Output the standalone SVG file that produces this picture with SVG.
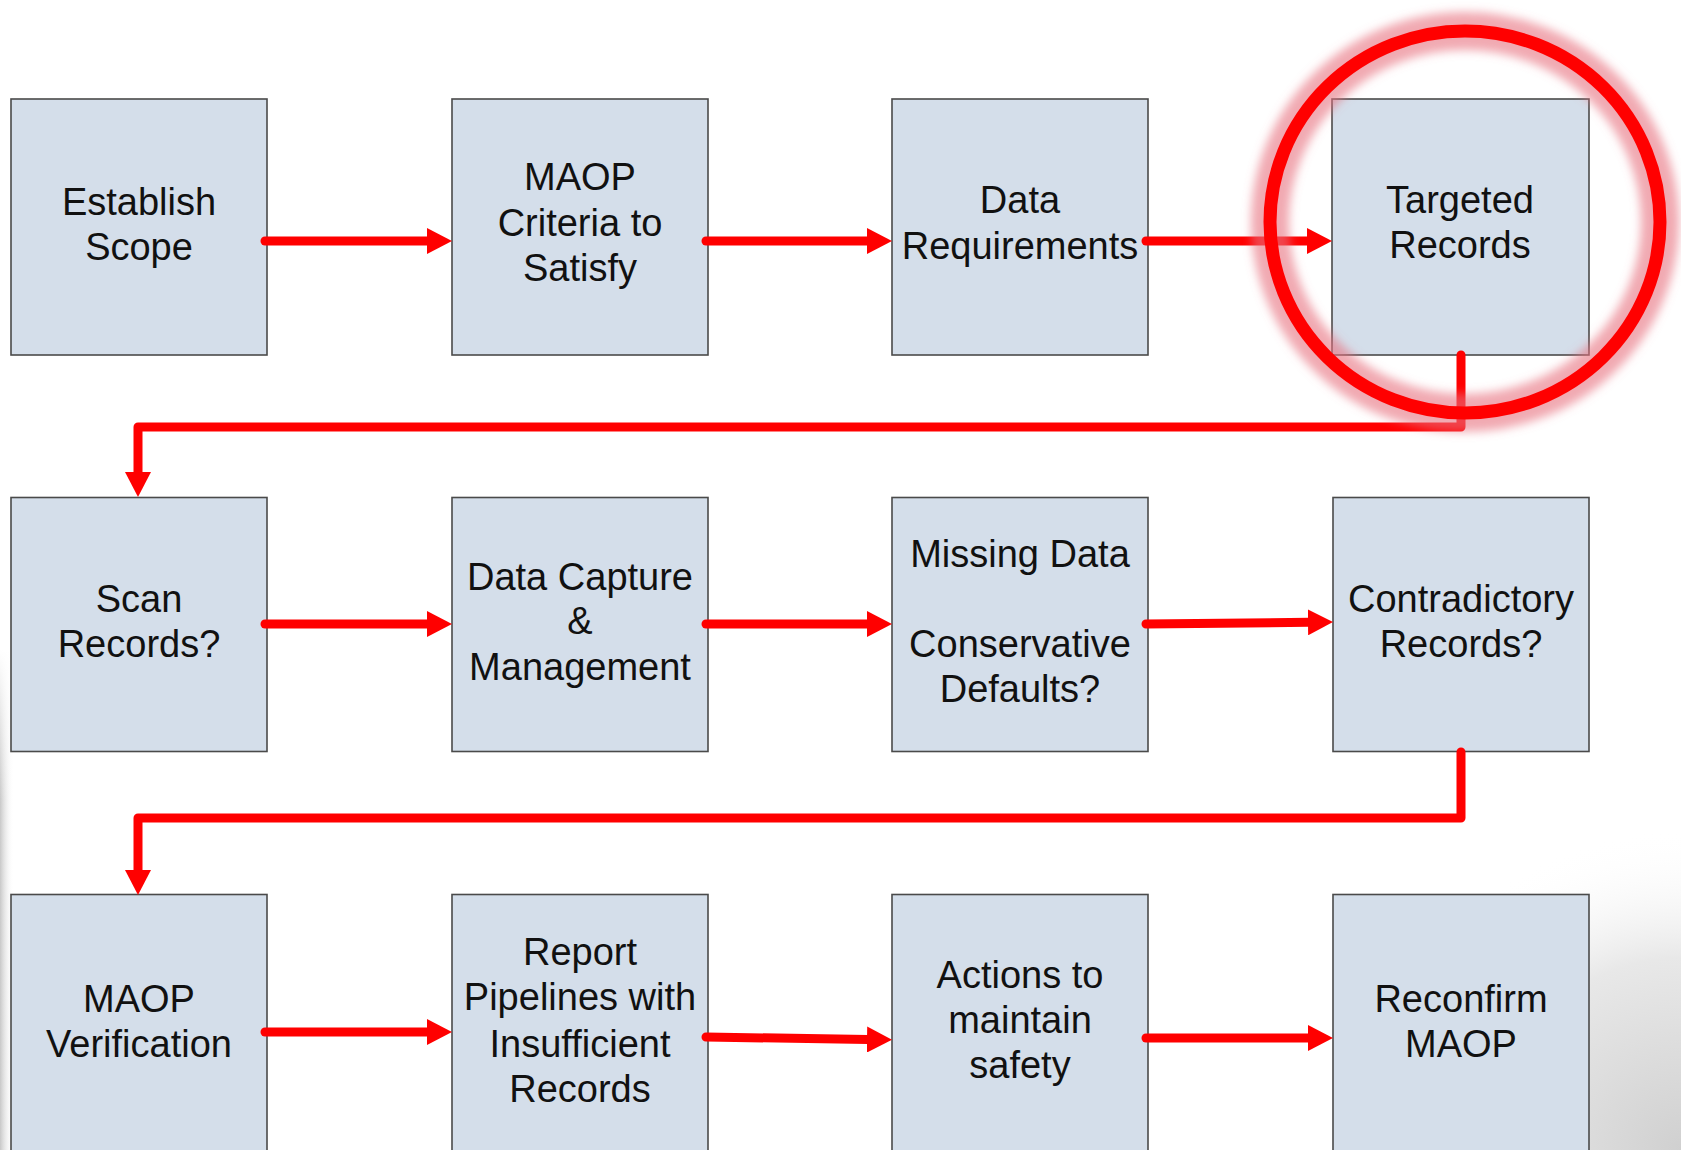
<svg xmlns="http://www.w3.org/2000/svg" width="1681" height="1150" viewBox="0 0 1681 1150">
<defs>
<style>
.box{fill:#d4deea;stroke:#4a4a4a;stroke-width:1.6}
.lbl{font-family:"Liberation Sans",Arial,sans-serif;font-size:38px;fill:#111;text-anchor:middle}
.con{fill:none;stroke:#ff0000;stroke-width:9;stroke-linecap:round;stroke-linejoin:round}
</style>
<marker id="ah" viewBox="0 0 25 26" markerWidth="25" markerHeight="26" markerUnits="userSpaceOnUse" refX="1" refY="13" orient="auto">
<path d="M0,0 L25,13 L0,26 Z" fill="#ff0000"/>
</marker>
<linearGradient id="lg" x1="0" y1="0" x2="1" y2="0">
<stop offset="0" stop-color="#c8c8c8"/>
<stop offset="1" stop-color="#ffffff" stop-opacity="0"/>
</linearGradient>
<linearGradient id="lgv" x1="0" y1="0" x2="0" y2="1">
<stop offset="0" stop-color="#fff" stop-opacity="1"/>
<stop offset="1" stop-color="#fff" stop-opacity="0"/>
</linearGradient>
<radialGradient id="rg" cx="1681" cy="1150" r="320" gradientUnits="userSpaceOnUse">
<stop offset="0" stop-color="#d0d0d0"/>
<stop offset="0.6" stop-color="#e8e8e8"/>
<stop offset="1" stop-color="#ffffff" stop-opacity="0"/>
</radialGradient>
<filter id="glow" x="-20%" y="-20%" width="140%" height="140%">
<feGaussianBlur stdDeviation="5"/>
</filter>
</defs>
<rect width="1681" height="1150" fill="#ffffff"/>
<rect x="1400" y="830" width="281" height="320" fill="url(#rg)"/>
<rect x="0" y="650" width="14" height="500" fill="url(#lg)"/>
<rect x="0" y="650" width="14" height="150" fill="url(#lgv)"/>

<g id="n1"><rect class="box" x="11" y="99" width="256" height="256"/><text class="lbl" x="139" y="215">Establish</text><text class="lbl" x="139" y="260">Scope</text></g>
<g id="n2"><rect class="box" x="452" y="99" width="256" height="256"/><text class="lbl" x="580" y="190">MAOP</text><text class="lbl" x="580" y="236">Criteria to</text><text class="lbl" x="580" y="281">Satisfy</text></g>
<g id="n3"><rect class="box" x="892" y="99" width="256" height="256"/><text class="lbl" x="1020" y="213">Data</text><text class="lbl" x="1020" y="259">Requirements</text></g>
<g id="n4"><rect class="box" x="1332" y="99" width="257" height="256"/><text class="lbl" x="1460" y="213">Targeted</text><text class="lbl" x="1460" y="258">Records</text></g>

<g id="n5"><rect class="box" x="11" y="497.5" width="256" height="254"/><text class="lbl" x="139" y="612">Scan</text><text class="lbl" x="139" y="657">Records?</text></g>
<g id="n6"><rect class="box" x="452" y="497.5" width="256" height="254"/><text class="lbl" x="580" y="590">Data Capture</text><text class="lbl" x="580" y="634">&amp;</text><text class="lbl" x="580" y="680">Management</text></g>
<g id="n7"><rect class="box" x="892" y="497.5" width="256" height="254"/><text class="lbl" x="1020" y="567">Missing Data</text><text class="lbl" x="1020" y="657">Conservative</text><text class="lbl" x="1020" y="702">Defaults?</text></g>
<g id="n8"><rect class="box" x="1333" y="497.5" width="256" height="254"/><text class="lbl" x="1461" y="612">Contradictory</text><text class="lbl" x="1461" y="657">Records?</text></g>

<g id="n9"><rect class="box" x="11" y="894.5" width="256" height="270"/><text class="lbl" x="139" y="1012">MAOP</text><text class="lbl" x="139" y="1057">Verification</text></g>
<g id="n10"><rect class="box" x="452" y="894.5" width="256" height="270"/><text class="lbl" x="580" y="965">Report</text><text class="lbl" x="580" y="1010">Pipelines with</text><text class="lbl" x="580" y="1057">Insufficient</text><text class="lbl" x="580" y="1102">Records</text></g>
<g id="n11"><rect class="box" x="892" y="894.5" width="256" height="270"/><text class="lbl" x="1020" y="988">Actions to</text><text class="lbl" x="1020" y="1033">maintain</text><text class="lbl" x="1020" y="1078">safety</text></g>
<g id="n12"><rect class="box" x="1333" y="894.5" width="256" height="270"/><text class="lbl" x="1461" y="1012">Reconfirm</text><text class="lbl" x="1461" y="1057">MAOP</text></g>

<g id="connectors" marker-end="url(#ah)">
<path class="con" d="M265,241 H428"/>
<path class="con" d="M706,241 H868"/>
<path class="con" d="M1146,241 H1308"/>
<path class="con" d="M1461,355 V427 H138 V473"/>
<path class="con" d="M265,624 H428"/>
<path class="con" d="M706,624 H868"/>
<path class="con" d="M1146,624 L1309,622.3"/>
<path class="con" d="M1461,752 V818 H138 V871"/>
<path class="con" d="M265,1032 H428"/>
<path class="con" d="M706,1037 L868,1039.5"/>
<path class="con" d="M1146,1038 H1309"/>
</g>

<g id="highlight">
<ellipse cx="1465" cy="222" rx="195" ry="191" fill="none" stroke="#e8707e" stroke-opacity="0.6" stroke-width="38" filter="url(#glow)"/>
<ellipse cx="1465" cy="222" rx="195" ry="191" fill="none" stroke="#ff0000" stroke-width="13"/>
</g>
</svg>
